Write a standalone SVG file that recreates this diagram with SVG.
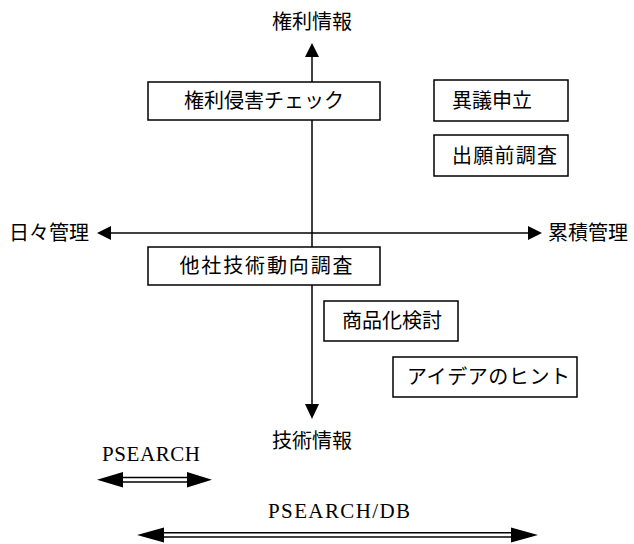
<svg xmlns="http://www.w3.org/2000/svg" width="634" height="544" viewBox="0 0 634 544">
<style>
.box{fill:#fff;stroke:#000;stroke-width:1.5}
.jp{font-family:"Noto Sans CJK JP","Noto Sans CJK SC",sans-serif;font-size:20px;fill:#000}
.en{font-family:"Liberation Serif",serif;font-size:21px;fill:#000}
.ax{stroke:#000;stroke-width:1.5;fill:none}
.hd{fill:#000;stroke:none}
</style>
<rect width="634" height="544" fill="#fff"/>
<g id="connectors">
  <line class="ax" x1="312" y1="55" x2="312" y2="405"/>
  <polygon class="hd" points="312,43 305,57 319,57"/>
  <polygon class="hd" points="312,419 305,404 319,404"/>
  <line class="ax" x1="110" y1="233" x2="529" y2="233"/>
  <polygon class="hd" points="97,233 111,226 111,240"/>
  <polygon class="hd" points="542,233 528,226 528,240"/>
  <g id="psearch-arrow">
    <line class="ax" x1="122" y1="477.5" x2="188" y2="477.5"/>
    <line class="ax" x1="122" y1="482" x2="188" y2="482"/>
    <polygon class="hd" points="97,479.8 123,472 123,487.5"/>
    <polygon class="hd" points="212,479.8 187,472 187,487.5"/>
  </g>
  <g id="psearchdb-arrow">
    <line class="ax" x1="163" y1="532.8" x2="512" y2="532.8"/>
    <line class="ax" x1="163" y1="537" x2="512" y2="537"/>
    <polygon class="hd" points="137,535 164,527.5 164,542.5"/>
    <polygon class="hd" points="538,535 511,527.5 511,542.5"/>
  </g>
</g>
<g id="label-kenri"><text class="jp" x="312" y="29" text-anchor="middle">権利情報</text></g>
<g id="label-gijutsu"><text class="jp" x="312" y="448" text-anchor="middle">技術情報</text></g>
<g id="label-nichinichi"><text class="jp" x="89" y="240" text-anchor="end">日々管理</text></g>
<g id="label-ruiseki"><text class="jp" x="548" y="240">累積管理</text></g>
<g id="node-kenri-shingai">
  <rect class="box" x="148" y="82" width="232" height="38"/>
  <text class="jp" x="264" y="108" text-anchor="middle">権利侵害チェック</text>
</g>
<g id="node-igi">
  <rect class="box" x="434" y="80" width="134" height="41"/>
  <text class="jp" x="452" y="108">異議申立</text>
</g>
<g id="node-shutsugan">
  <rect class="box" x="434" y="135" width="134" height="41"/>
  <text class="jp" x="452" y="163" textLength="105">出願前調査</text>
</g>
<g id="node-tasha">
  <rect class="box" x="148" y="247" width="232" height="38"/>
  <text class="jp" x="266" y="273" text-anchor="middle" textLength="173">他社技術動向調査</text>
</g>
<g id="node-shohinka">
  <rect class="box" x="324" y="301" width="134" height="40"/>
  <text class="jp" x="342" y="328">商品化検討</text>
</g>
<g id="node-idea">
  <rect class="box" x="393" y="357" width="184" height="40"/>
  <text class="jp" x="407" y="384" textLength="163">アイデアのヒント</text>
</g>
<g id="label-psearch"><text class="en" x="102" y="461" textLength="98">PSEARCH</text></g>
<g id="label-psearchdb"><text class="en" x="268" y="518" textLength="142">PSEARCH/DB</text></g>
</svg>
